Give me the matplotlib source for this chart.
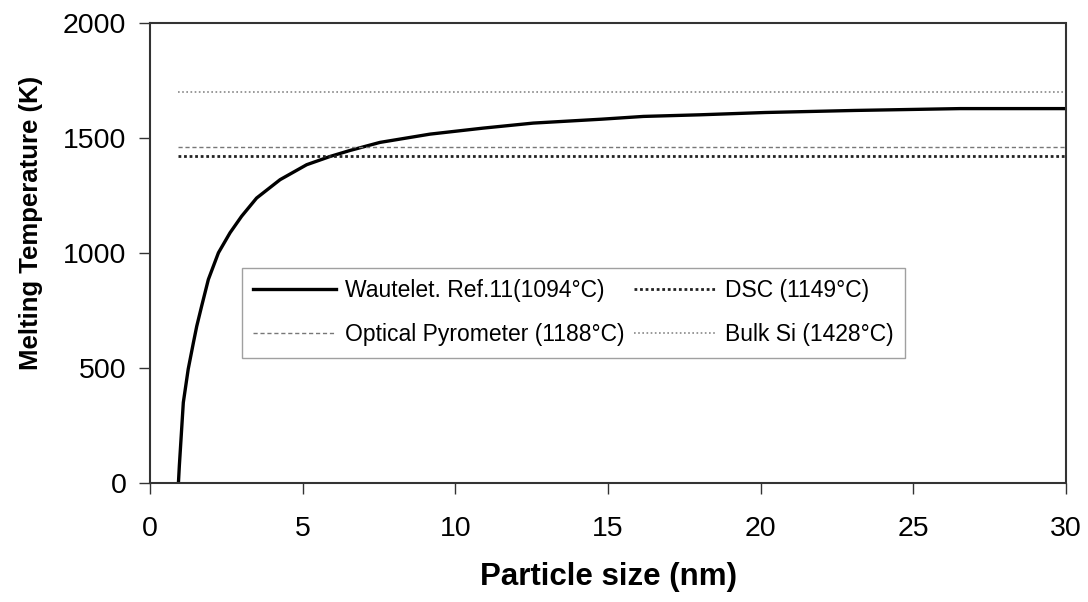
import numpy as np
import matplotlib.pyplot as plt

plt.rcParams['font.family'] = ['Liberation Sans', 'DejaVu Sans']

# Wautelet model curve
size_nm = [0.93, 0.96, 1.09, 1.25, 1.42, 1.53, 1.69, 1.91, 2.24, 2.62, 3.0, 3.49,
           4.26, 5.13, 5.9, 6.55, 7.53, 9.17, 10.9, 12.55, 14.79, 16.16, 18.0,
           20.14, 23.09, 26.53, 30.0]
melt_K = [0, 75, 350, 495, 610, 682, 769, 885, 1001, 1088, 1160, 1239,
          1319, 1384, 1420, 1446, 1481, 1517, 1543, 1565, 1582, 1594, 1601,
          1611, 1620, 1628, 1628]

# reference levels (K)
dsc_K = 1422
optical_K = 1461
bulk_K = 1701
line_x = [0.9, 30]

fig = plt.figure(figsize=(10.88, 6.02), dpi=100)
ax = fig.add_axes([0.1379, 0.1977, 0.8419, 0.764])

h_w, = ax.plot(size_nm, melt_K, color='black', lw=2.4, label='Wautelet. Ref.11(1094°C)')
h_d, = ax.plot(line_x, [dsc_K, dsc_K], color='#222222', lw=2.0, ls=(0, (1, 1)),
               label='DSC (1149°C)')
h_o, = ax.plot(line_x, [optical_K, optical_K], color='#777777', lw=1.0, ls=(0, (3, 2)),
               label='Optical Pyrometer (1188°C)')
h_b, = ax.plot(line_x, [bulk_K, bulk_K], color='#888888', lw=1.2, ls=(0, (1, 1.5)),
               label='Bulk Si (1428°C)')

ax.set_xlim(0, 30)
ax.set_ylim(0, 2000)
ax.set_xticks(range(0, 31, 5))
ax.set_yticks(range(0, 2001, 500))
ax.tick_params(labelsize=20.5, direction='out', length=8, width=1, color='#333333')
ax.tick_params(axis='x', pad=16)
ax.tick_params(axis='y', pad=9)

for s in ax.spines.values():
    s.set_linestyle((0, (1, 1)))
    s.set_linewidth(1.5)
    s.set_color('#333333')

ax.set_xlabel('Particle size (nm)', fontsize=22.5, fontweight='bold', labelpad=14)
ax.set_ylabel('Melting Temperature (K)', fontsize=18.5, fontweight='bold')
ax.yaxis.set_label_coords(-0.117, 0.565)

# ncol=2 fills column by column
leg = ax.legend([h_w, h_o, h_d, h_b],
                [h_w.get_label(), h_o.get_label(), h_d.get_label(), h_b.get_label()],
                ncol=2, loc='upper left', bbox_to_anchor=(0.1002, 0.4674),
                borderaxespad=0, fontsize=16.5, frameon=True, fancybox=False,
                handlelength=3.6, handletextpad=0.4, columnspacing=0.4,
                borderpad=0.5, labelspacing=0.9)
leg.get_frame().set_edgecolor('#888888')
leg.get_frame().set_linewidth(1.0)

fig.savefig('out.png', dpi=100)
